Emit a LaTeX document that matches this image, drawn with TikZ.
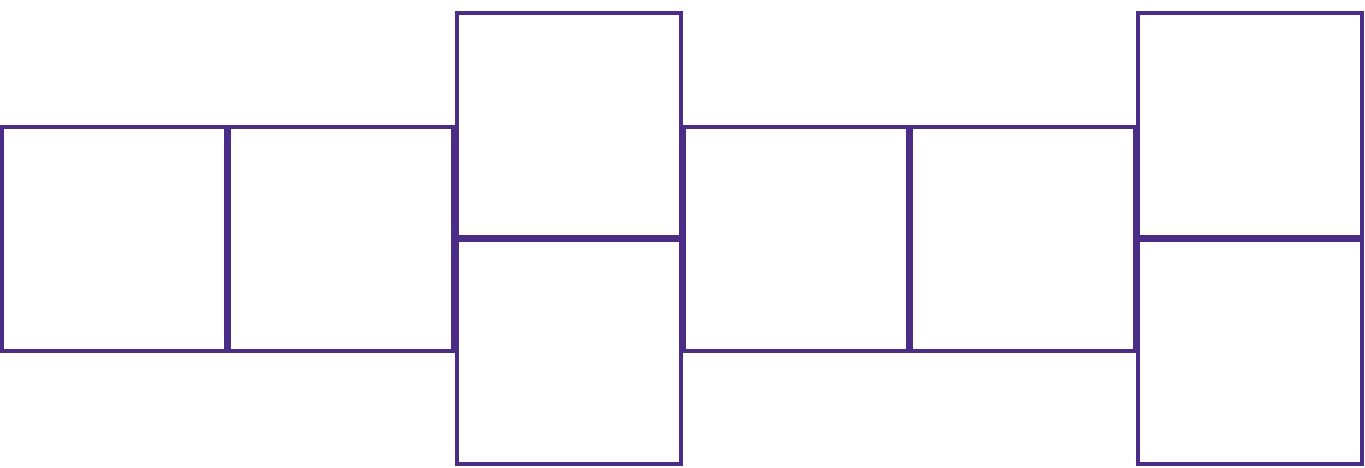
\documentclass[tikz,border=0pt]{standalone}
\usepackage{tikz}
\usetikzlibrary{positioning}
\usepackage{xcolor}
\definecolor{netpurple}{HTML}{4B2D87}
\tikzstyle{face} = [rectangle, draw=netpurple, line width=4pt, fill=white, minimum width=224pt, minimum height=224pt, inner sep=0pt, outer sep=0pt]

\begin{document}
\begin{tikzpicture}[x=1pt, y=-1pt]
  \useasboundingbox (0,0) rectangle (1365,467);

  % Middle row with two folded columns
  \node[face] (f1) at (114,239) {};
  \node[face, right=3pt of f1] (f2) {};
  \node[face, above right=2pt and 4pt of f2.east] (f3a) {};
  \node[face, below=3pt of f3a] (f3b) {};
  \node[face, right=3pt of f3a.south east, anchor=west, yshift=-2pt] (f4) {};
  \node[face, right=3pt of f4] (f5) {};
  \node[face, above right=2pt and 3pt of f5.east] (f6a) {};
  \node[face, below=3pt of f6a] (f6b) {};
\end{tikzpicture}
\end{document}
